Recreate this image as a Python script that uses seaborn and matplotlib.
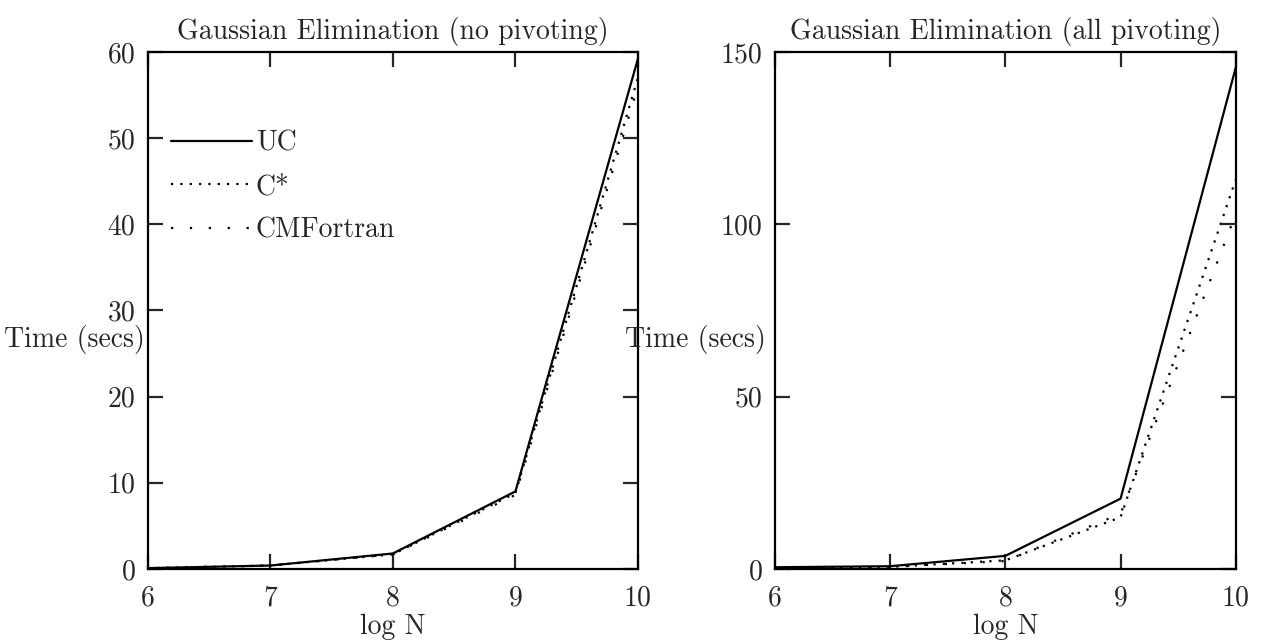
import matplotlib
matplotlib.use("Agg")
import matplotlib.pyplot as plt
import numpy as np
import pandas as pd
import seaborn as sns

# x values (log N)
log_n = [6, 7, 8, 9, 10]

# no pivoting
uc_nopiv = [0.1, 0.4, 1.8, 9.0, 59.2]
cstar_nopiv = [0.1, 0.4, 1.7, 8.8, 57.0]
cmf_nopiv = [0.1, 0.4, 1.7, 8.6, 56.0]

# all pivoting
uc_piv = [0.5, 0.8, 3.8, 20.4, 145.5]
cstar_piv = [0.3, 0.6, 2.5, 15.0, 113.0]
cmf_piv = [0.3, 0.6, 2.3, 16.0, 103.0]

series_names = ["UC", "C*", "CMFortran"]
titles = ["Gaussian Elimination (no pivoting)", "Gaussian Elimination (all pivoting)"]
styles = {"UC": "-", "C*": (0, (1, 3.2)), "CMFortran": (0, (1, 7.5))}

sns.set_style("ticks")
plt.rcParams["font.family"] = ["cmr10", "DejaVu Serif"]
plt.rcParams["axes.unicode_minus"] = False


def make_df(uc, cs, cmf):
    rows = []
    for name, vals in zip(series_names, [uc, cs, cmf]):
        for x, y in zip(log_n, vals):
            rows.append({"logN": x, "time": y, "lang": name})
    return pd.DataFrame(rows)


fig = plt.figure(figsize=(12.64, 6.44), dpi=100)
ax1 = fig.add_axes([0.117, 0.1165, 0.3877, 0.803])
ax2 = fig.add_axes([0.613, 0.1165, 0.3647, 0.803])

panels = [
    (ax1, make_df(uc_nopiv, cstar_nopiv, cmf_nopiv), (0, 60), np.arange(0, 61, 10), -0.006),
    (ax2, make_df(uc_piv, cstar_piv, cmf_piv), (0, 150), np.arange(0, 151, 50), -0.019),
]

fs = 20
for i, (ax, df, ylim, yticks, lab_x) in enumerate(panels):
    for name in series_names:
        sub = df[df["lang"] == name]
        sns.lineplot(data=sub, x="logN", y="time", ax=ax, color="black",
                     linewidth=1.6, linestyle=styles[name], label=name)
    ax.set_xlim(6, 10)
    ax.set_ylim(*ylim)
    ax.set_xticks(log_n)
    ax.set_yticks(yticks)
    ax.tick_params(direction="in", length=11, width=1.6, top=True, right=True,
                   labelsize=fs)
    ax.tick_params(axis="x", pad=12)
    ax.tick_params(axis="y", pad=9)
    for sp in ax.spines.values():
        sp.set_linewidth(1.6)
        sp.set_color("black")
    ax.set_title(titles[i], fontsize=fs, pad=9)
    ax.set_xlabel("log N", fontsize=fs, labelpad=1)
    ax.set_ylabel("Time (secs)", fontsize=fs, rotation=0, ha="right", va="center")
    ax.yaxis.set_label_coords(lab_x, 0.443)
    if i == 0:
        ax.legend(loc="upper left", bbox_to_anchor=(0.025, 0.87), frameon=False,
                  fontsize=fs, handlelength=2.9, handletextpad=0.15,
                  labelspacing=0.62, borderaxespad=0)
    else:
        ax.get_legend().remove()

fig.savefig("out.png", dpi=100)
